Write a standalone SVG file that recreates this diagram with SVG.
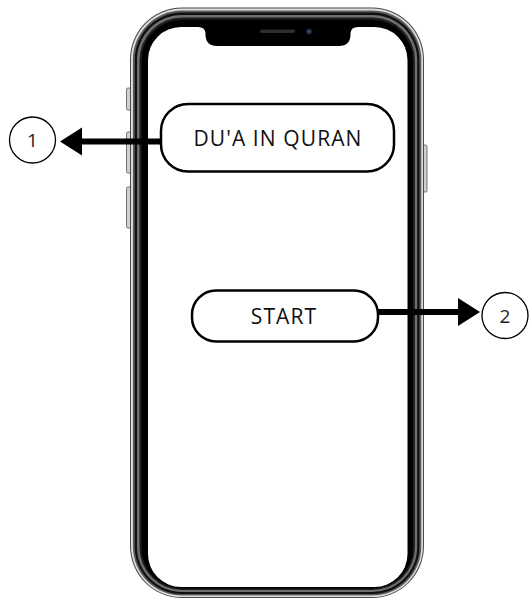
<svg xmlns="http://www.w3.org/2000/svg" width="529" height="601" viewBox="0 0 529 601">
  <style>
    .box { fill: #ffffff; stroke: #000000; stroke-width: 2.5; }
    .lbl { font-family: "Open Sans", "Liberation Sans", sans-serif; font-size: 21px; fill: #111111; text-anchor: middle; letter-spacing: 1.1px; }
    .num { font-family: "Open Sans", "Liberation Sans", sans-serif; font-size: 19px; fill: #222222; text-anchor: middle; }
    .ring { fill: #ffffff; stroke: #000000; stroke-width: 1.3; }
    .conn { stroke: #000000; stroke-width: 6; fill: none; }
    .btn { fill: #d0d0d0; stroke: #555555; stroke-width: 0.8; }
  </style>
  <defs>
    <marker id="head" markerUnits="userSpaceOnUse" markerWidth="26" markerHeight="32" viewBox="0 -16 26 32" refX="2" refY="0" orient="auto">
      <path d="M0,-14 L22,0 L0,14 Z" fill="#000000"/>
    </marker>
  </defs>
  <rect width="529" height="601" fill="#ffffff"/>

  <g id="phone">
    <rect class="btn" x="126.5" y="88" width="5" height="22" rx="1.5"/>
    <rect class="btn" x="126.5" y="132" width="5" height="41" rx="1.5"/>
    <rect class="btn" x="126.5" y="187" width="5" height="41" rx="1.5"/>
    <rect class="btn" x="422.5" y="145" width="4.5" height="47" rx="1.5"/>
    <rect x="130" y="7.5" width="294" height="590.5" rx="52" fill="#4a4a4a"/>
    <rect x="131" y="8.6" width="292" height="588.5" rx="51" fill="#dedede"/>
    <rect x="132.9" y="10.6" width="288.4" height="584.9" rx="49" fill="#5a5a5a"/>
    <rect x="134.8" y="12.6" width="284.6" height="581.4" rx="47" fill="#101010"/>
    <rect x="137" y="14.9" width="280.2" height="577.1" rx="45" fill="#6e6e6e"/>
    <rect x="139.5" y="17.6" width="275.4" height="572.4" rx="42.5" fill="#1c1c1c"/>
    <rect x="141.5" y="19.8" width="271.5" height="568.6" rx="40.5" fill="#000000"/>
    <rect x="148" y="27" width="259.5" height="560" rx="33" fill="#ffffff"/>
    <path d="M198,20 L198,27 Q205,27 205.5,33 L205.5,35 Q206,46 217,46 L339,46 Q350,46 350.5,35 L350.5,33 Q351,27 358,27 L358,20 Z" fill="#000000"/>
    <rect x="260" y="29.5" width="35" height="3.5" rx="1.7" fill="#2e2e2e"/>
    <circle cx="309" cy="31.5" r="3" fill="#1b2740"/>
    <circle cx="309" cy="31.5" r="1.2" fill="#3a5a8a"/>
  </g>

  <g id="connectors">
    <line class="conn" x1="161" y1="141.5" x2="80" y2="141.5" marker-end="url(#head)"/>
    <line class="conn" x1="378" y1="312" x2="460" y2="312" marker-end="url(#head)"/>
  </g>

  <g id="node-dua">
    <rect class="box" x="161" y="104" width="233" height="67.5" rx="27"/>
    <text class="lbl" x="278" y="146">DU'A IN QURAN</text>
  </g>

  <g id="node-start">
    <rect class="box" x="192" y="290.5" width="186" height="51" rx="24"/>
    <text class="lbl" x="284" y="324">START</text>
  </g>

  <g id="node-1">
    <circle class="ring" cx="32.5" cy="140" r="23"/>
    <text class="num" x="32.5" y="147">1</text>
  </g>

  <g id="node-2">
    <circle class="ring" cx="505" cy="315.5" r="23"/>
    <text class="num" x="505" y="322.5">2</text>
  </g>
</svg>
